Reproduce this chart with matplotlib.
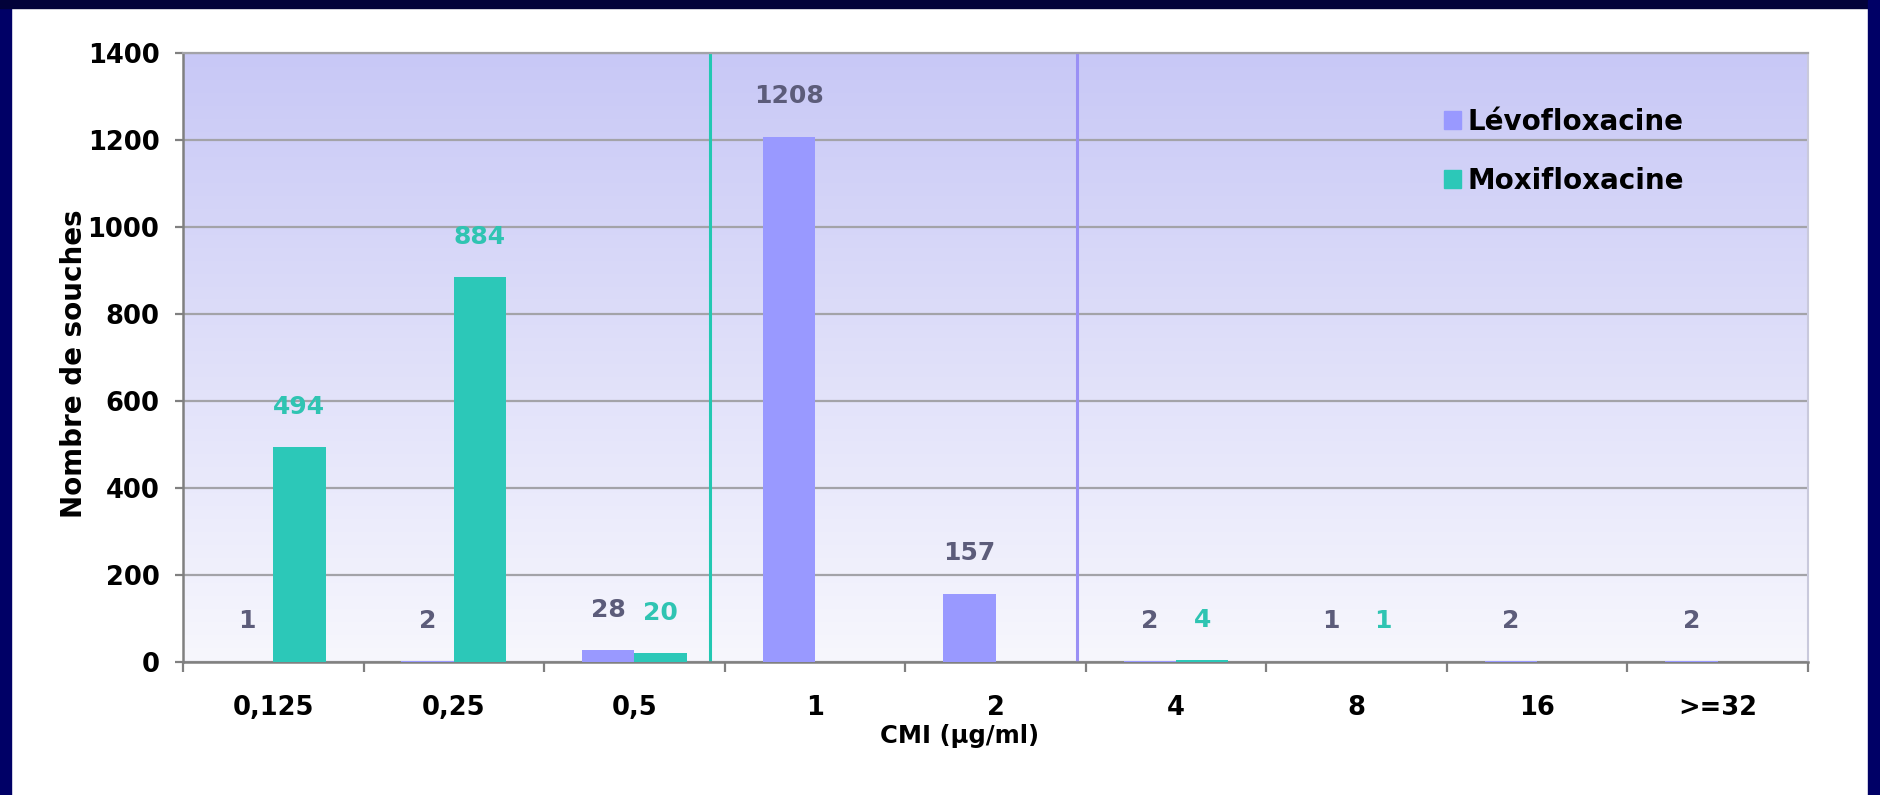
import numpy as np
import matplotlib
matplotlib.use("Agg")
import matplotlib.pyplot as plt
from matplotlib.patches import Rectangle, Patch

# MIC distribution of strains (number of strains per MIC value)
categories = ["0,125", "0,25", "0,5", "1", "2", "4", "8", "16", ">=32"]
levofloxacine = [1, 2, 28, 1208, 157, 2, 1, 2, 2]
moxifloxacine = [494, 884, 20, 0, 0, 4, 1, 0, 0]
series_names = ["Lévofloxacine", "Moxifloxacine"]
y_ticks = [0, 200, 400, 600, 800, 1000, 1200, 1400]
# breakpoint markers drawn as vertical lines (category-axis position)
moxi_breakpoint = 2.42
levo_breakpoint = 4.45

LEVO_COLOR = "#9999ff"
MOXI_COLOR = "#2cc8b8"
LEVO_LABEL = "#5c5c7a"
MOXI_LABEL = "#2fc4b2"
NAVY = "#000066"

plt.rcParams["font.family"] = ["DejaVu Sans"]

W, H = 1880, 795
fig = plt.figure(figsize=(W / 100, H / 100), dpi=100)
fig.patch.set_facecolor("white")

# navy slide frame
fig.patches.append(Rectangle((0, 0), 11 / W, 1, transform=fig.transFigure,
                             color=NAVY, zorder=0))
fig.patches.append(Rectangle((0, 1 - 8 / H), 1, 8 / H, transform=fig.transFigure,
                             color="#02023a", zorder=0))
fig.patches.append(Rectangle((1 - 12 / W, 0), 12 / W, 1, transform=fig.transFigure,
                             color=NAVY, zorder=0))

left, right, top, bottom = 183, 1808, 53, 662
ax = fig.add_axes([left / W, 1 - bottom / H, (right - left) / W, (bottom - top) / H])
ax.set_facecolor("none")

x = np.arange(len(categories))
ax.set_xlim(-0.5, len(categories) - 0.5)
ax.set_ylim(0, 1400)

# vertical gradient background of the plot area
grad = np.linspace(0, 1, 256).reshape(-1, 1)
top_c = np.array([200, 200, 246]) / 255
bot_c = np.array([247, 247, 253]) / 255
img = bot_c[None, None, :] * (1 - grad[:, :, None]) + top_c[None, None, :] * grad[:, :, None]
ax.imshow(img, extent=[-0.5, len(categories) - 0.5, 0, 1400], origin="lower",
          aspect="auto", zorder=0, interpolation="bilinear")

ax.set_yticks(y_ticks)
ax.yaxis.grid(True, color="#a3a3a8", linewidth=1.6, zorder=1)
ax.set_axisbelow(True)

w = 0.29
ax.bar(x - w / 2, levofloxacine, w, color=LEVO_COLOR, zorder=3, label=series_names[0])
ax.bar(x + w / 2, moxifloxacine, w, color=MOXI_COLOR, zorder=3, label=series_names[1])

for xi, v in zip(x, levofloxacine):
    if v > 0:
        ax.annotate(str(v), (xi - w / 2, v), xytext=(0, 29), textcoords="offset points",
                    ha="center", va="center", fontsize=18, fontweight="bold",
                    color=LEVO_LABEL, zorder=4)
for xi, v in zip(x, moxifloxacine):
    if v > 0:
        ax.annotate(str(v), (xi + w / 2, v), xytext=(0, 29), textcoords="offset points",
                    ha="center", va="center", fontsize=18, fontweight="bold",
                    color=MOXI_LABEL, zorder=4)

ax.axvline(moxi_breakpoint, color="#22c8b2", linewidth=2.2, zorder=2)
ax.axvline(levo_breakpoint, color="#9a90f5", linewidth=2.2, zorder=2)

# category axis: ticks at boundaries, labels at centers
ax.set_xticks(np.arange(-0.5, len(categories), 1.0))
ax.set_xticklabels([])
ax.set_xticks(x, minor=True)
ax.set_xticklabels(categories, minor=True)
ax.tick_params(axis="x", which="major", direction="out", length=7, width=1.6, color="#808080")
ax.tick_params(axis="x", which="minor", length=0, pad=24, labelsize=18.5)
ax.tick_params(axis="y", direction="out", length=6, width=1.6, color="#808080",
               pad=11, labelsize=18.5)
for lab in ax.get_xticklabels(minor=True) + ax.get_yticklabels():
    lab.set_fontweight("bold")

for s in ["left", "bottom"]:
    ax.spines[s].set_color("#808080")
    ax.spines[s].set_linewidth(1.8)
ax.spines["top"].set_color("#a3a3a8")
ax.spines["top"].set_linewidth(1.6)
ax.spines["right"].set_color("#c9c9dc")
ax.spines["right"].set_linewidth(1.5)

ax.set_xlabel("CMI (µg/ml)", fontsize=17.5, fontweight="bold")
ax.xaxis.set_label_coords(0.478, -0.122)
ax.xaxis.label.set_va("center")
ax.set_ylabel("Nombre de souches", fontsize=20, fontweight="bold")
ax.yaxis.set_label_coords((74 - left) / (right - left), 0.49)
ax.yaxis.label.set_va("center")

handles = [Patch(color=LEVO_COLOR), Patch(color=MOXI_COLOR)]
fig.legend(handles, series_names, loc="upper left",
           bbox_to_anchor=(1444 / W, 1 - 108 / H), frameon=False,
           handlelength=0.6, handleheight=0.6, handletextpad=0.25,
           labelspacing=1.1, borderpad=0, borderaxespad=0,
           prop={"size": 20, "weight": "bold"})

fig.savefig("out.png", dpi=100, facecolor=fig.get_facecolor())
